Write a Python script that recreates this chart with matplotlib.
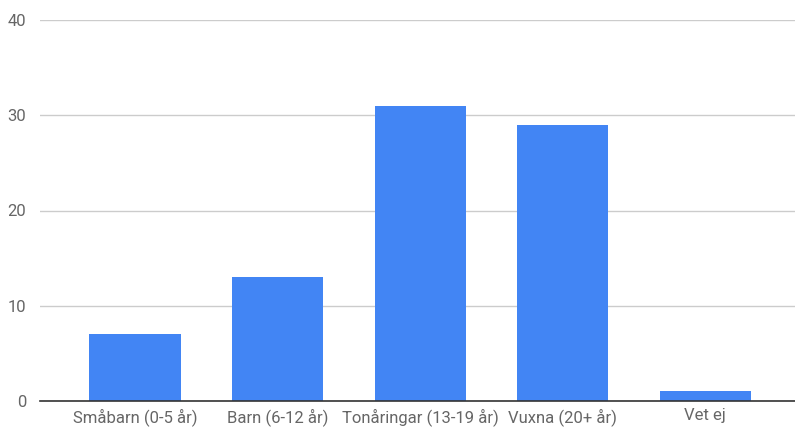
import matplotlib.pyplot as plt

kategorier = ['Småbarn (0-5 år)', 'Barn (6-12 år)', 'Tonåringar (13-19 år)', 'Vuxna (20+ år)', 'Vet ej']
antal = [7, 13, 31, 29, 1]
y_ticks = [0, 10, 20, 30, 40]

plt.rcParams['font.family'] = ['Roboto', 'DejaVu Sans']

fig = plt.figure(figsize=(7.95, 4.28), dpi=100)
ax = fig.add_axes([40 / 795, 27 / 428, 755 / 795, 381 / 428])

x = range(len(kategorier))
ax.bar(x, antal, width=0.64, color='#4285f4', zorder=3)

ax.set_xlim(-0.667, 4.63)
ax.set_ylim(0, 40)
ax.set_yticks(y_ticks)
ax.set_xticks(list(x))
ax.set_xticklabels(kategorier)

ax.grid(axis='y', color='#cccccc', linewidth=1, zorder=0)
ax.tick_params(axis='both', length=0, labelsize=12, labelcolor='#666666')
ax.tick_params(axis='y', pad=10)
ax.tick_params(axis='x', pad=5)

for side in ['top', 'right', 'left']:
    ax.spines[side].set_visible(False)
ax.spines['bottom'].set_color('#333333')
ax.spines['bottom'].set_linewidth(1.2)
ax.spines['bottom'].set_zorder(4)

fig.savefig('out.png', dpi=100)
